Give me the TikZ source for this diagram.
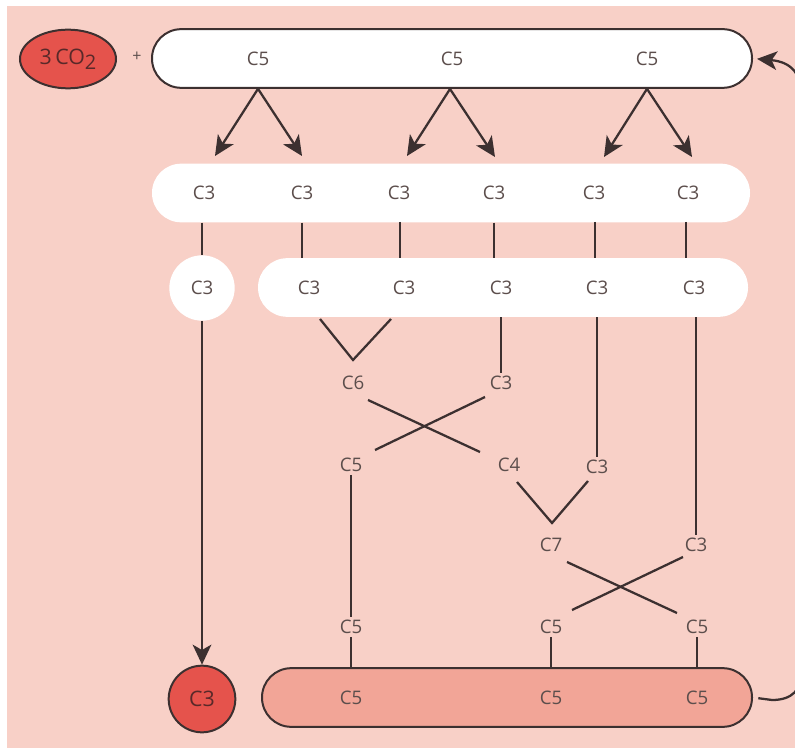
\documentclass[tikz,border=0pt]{standalone}
\usepackage{fontspec}
\setmainfont{Open Sans}
\usetikzlibrary{arrows.meta,shapes.geometric}
\definecolor{bg}{RGB}{248,208,199}
\definecolor{redc}{RGB}{229,83,76}
\definecolor{salmon}{RGB}{242,165,151}
\definecolor{lc}{RGB}{60,48,48}
\definecolor{txt}{RGB}{92,78,76}
\begin{document}
\begin{tikzpicture}[x=0.75pt,y=-0.75pt,
  lbl/.style={font=\fontsize{14}{16}\selectfont, text=txt, inner sep=2pt},
  ln/.style={draw=lc, line width=1.7pt},
  arr/.style={ln, -{Stealth[length=15pt,width=14pt,inset=4pt]}},
  barw/.style={fill=white, minimum width=#1, minimum height=44pt, rounded corners=21.9pt, inner sep=0pt},
  outl/.style={draw=lc, line width=1.5pt}]
\useasboundingbox (0,0) rectangle (795,755);
\fill[bg] (7,6) rectangle (795,748);

% bars
\node[barw=450pt, outl] (top) at (452,58.5) {};
\node[barw=448.5pt] (row2) at (451,193) {};
\node[barw=367.5pt] (row3) at (503,287.5) {};
\node[barw=367.5pt, outl, fill=salmon] (bot) at (507,697.5) {};
\node[circle, fill=white, minimum size=49pt, inner sep=0pt] (cw) at (202,288) {};
\node[circle, fill=redc, outl, minimum size=50pt, inner sep=0pt] (cr) at (202,699) {};
\node[ellipse, fill=redc, outl, minimum width=72pt, minimum height=44pt, inner sep=0pt] (co2) at (68,59)
  {\fontsize{16}{18}\selectfont\color{lc!85!red}3\,CO\raisebox{-0.45ex}{\fontsize{15}{15}\selectfont 2}};
\node[lbl, font=\fontsize{12}{14}\selectfont] (plus) at (137,57) {+};

% top labels
\node[lbl] (t1) at (258,59) {C5};
\node[lbl] (t2) at (452,59) {C5};
\node[lbl] (t3) at (647,59) {C5};
% row 2
\node[lbl] (a1) at (204,193) {C3};
\node[lbl] (a2) at (302,193) {C3};
\node[lbl] (a3) at (399,193) {C3};
\node[lbl] (a4) at (494,193) {C3};
\node[lbl] (a5) at (594,193) {C3};
\node[lbl] (a6) at (688,193) {C3};
% row 3
\node[lbl] (b0) at (cw) {C3};
\node[lbl] (b1) at (309,288) {C3};
\node[lbl] (b2) at (404,288) {C3};
\node[lbl] (b3) at (501,288) {C3};
\node[lbl] (b4) at (597,288) {C3};
\node[lbl] (b5) at (694,288) {C3};
% middle
\node[lbl] (c6) at (353,383) {C6};
\node[lbl] (m3a) at (501,383) {C3};
\node[lbl] (m5a) at (351,465) {C5};
\node[lbl] (m4) at (509,465) {C4};
\node[lbl] (m3b) at (597,467) {C3};
\node[lbl] (c7) at (551,545) {C7};
\node[lbl] (m3c) at (696,545) {C3};
\node[lbl] (m5b) at (351,627) {C5};
\node[lbl] (m5c) at (551,627) {C5};
\node[lbl] (m5d) at (697,627) {C5};
% bottom
\node[lbl, font=\fontsize{16}{18}\selectfont, text=lc!85!red] (d0) at (cr) {C3};
\node[lbl] (d1) at (351,698) {C5};
\node[lbl] (d2) at (551,698) {C5};
\node[lbl] (d3) at (697,698) {C5};

% split arrows
\draw[arr] (t1 |- top.south) -- (215,156);
\draw[arr] (t1 |- top.south) -- (302,156);
\draw[arr] (450,89) -- (407,156);
\draw[arr] (450,89) -- (495,157);
\draw[arr] (t3 |- top.south) -- (604,157);
\draw[arr] (t3 |- top.south) -- (692,157);

% row2 -> row3
\draw[ln] (cw |- row2.south) -- (cw.north);
\draw[ln] (a2 |- row2.south) -- (a2 |- row3.north);
\draw[ln] (400,222) -- (400,258);
\draw[ln] (a4 |- row2.south) -- (a4 |- row3.north);
\draw[ln] (595,222) -- (595,258);
\draw[ln] (686,222) -- (686,258);

% C3 to product
\draw[arr] (cw.south) -- (cr.north);

% rearrangements
\draw[ln] (320,319) -- (353,360) -- (391,319);
\draw[ln] (b3 |- row3.south) -- (m3a.north);
\draw[ln] (368,400) -- (480,452);
\draw[ln] (485,397) -- (375,450);
\draw[ln] (m5a.south) -- (m5b.north);
\draw[ln] (m3b |- row3.south) -- (m3b.north);
\draw[ln] (517,482) -- (552,523) -- (588,481);
\draw[ln] (m3c |- row3.south) -- (m3c.north);
\draw[ln] (567,562) -- (677,613);
\draw[ln] (683,557) -- (572,610);
\draw[ln] (m5b.south) -- (m5b |- bot.north);
\draw[ln] (m5c.south) -- (m5c |- bot.north);
\draw[ln] (m5d.south) -- (m5d |- bot.north);

% regeneration loop
\draw[arr, shorten <=4pt, shorten >=3pt] (bot.east) -- (772,700) .. controls (792,700) and (802,690) .. (802,670)
  -- (802,100) .. controls (802,74) and (792,62) .. (top.east);
\end{tikzpicture}
\end{document}
